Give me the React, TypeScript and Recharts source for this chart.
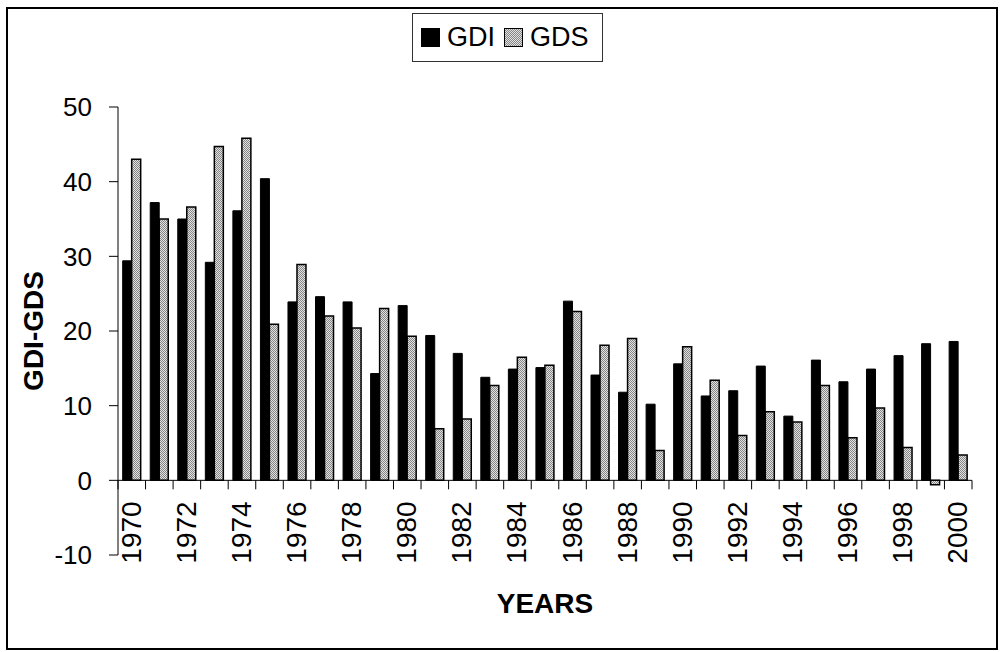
import React from 'react';
import { BarChart, Bar, XAxis, YAxis, ReferenceLine } from 'recharts';

const years = [
  1970, 1971, 1972, 1973, 1974, 1975, 1976, 1977, 1978, 1979, 1980,
  1981, 1982, 1983, 1984, 1985, 1986, 1987, 1988, 1989, 1990,
  1991, 1992, 1993, 1994, 1995, 1996, 1997, 1998, 1999, 2000,
];

// gross domestic investment, % of GDP
const gdi = [
  29.4, 37.2, 35.0, 29.2, 36.1, 40.4, 23.9, 24.6, 23.9, 14.3, 23.4,
  19.4, 17.0, 13.8, 14.9, 15.1, 24.0, 14.1, 11.8, 10.2, 15.6,
  11.3, 12.0, 15.3, 8.6, 16.1, 13.2, 14.9, 16.7, 18.3, 18.6,
];

// gross domestic savings, % of GDP
const gds = [
  43.0, 35.0, 36.6, 44.7, 45.8, 20.9, 28.9, 22.0, 20.4, 23.0, 19.3,
  6.9, 8.2, 12.7, 16.5, 15.4, 22.6, 18.1, 19.0, 4.0, 17.9,
  13.4, 6.0, 9.2, 7.8, 12.7, 5.7, 9.7, 4.4, -0.6, 3.4,
];

const yTicks = [-10, 0, 10, 20, 30, 40, 50];

const data = years.map((year, i) => ({ year, GDI: gdi[i], GDS: gds[i] }));

const FONT = '"Liberation Sans", Arial, sans-serif';
const W = 1000;
const H = 652;
const MARGIN = { top: 107, right: 28, bottom: 0, left: 0 };
const Y_AXIS_W = 118;
const X_AXIS_H = 97;
const PLOT_W = W - MARGIN.left - MARGIN.right - Y_AXIS_W;
const PLOT_H = H - MARGIN.top - MARGIN.bottom - X_AXIS_H;
const BAND = PLOT_W / years.length;
const Y_MIN = yTicks[0];
const Y_MAX = yTicks[yTicks.length - 1];
const ZERO_Y = MARGIN.top + (PLOT_H * Y_MAX) / (Y_MAX - Y_MIN);

// year labels hang below the zero line; tick marks sit between categories
const YearTick = (props: any) => {
  const { x, payload } = props;
  const idx = years.indexOf(payload.value);
  const left = x - BAND / 2;
  return (
    <g>
      <line x1={left} x2={left} y1={ZERO_Y} y2={ZERO_Y + 9} stroke="#000" />
      {idx === years.length - 1 && (
        <line x1={x + BAND / 2} x2={x + BAND / 2} y1={ZERO_Y} y2={ZERO_Y + 9} stroke="#000" />
      )}
      {idx % 2 === 0 && (
        <text
          transform={`translate(${x + 9}, ${ZERO_Y + 21}) rotate(-90)`}
          textAnchor="end"
          fontSize={28}
          fontFamily={FONT}
          fill="#000"
        >
          {payload.value}
        </text>
      )}
    </g>
  );
};

const YTitle = (props: any) => {
  const vb = props.viewBox || { y: MARGIN.top, height: PLOT_H };
  return (
    <text
      transform={`translate(43, ${vb.y + vb.height / 2}) rotate(-90)`}
      textAnchor="middle"
      fontSize={28}
      fontWeight="bold"
      fontFamily={FONT}
      fill="#000"
    >
      GDI-GDS
    </text>
  );
};

const swatch: React.CSSProperties = {
  display: 'inline-block',
  width: 19,
  height: 19,
  boxSizing: 'border-box',
};

const App: React.FC = () => {
  return (
    <div style={{ position: 'absolute', left: 0, top: 0, width: W, height: H, background: '#fff' }}>
      <svg width={0} height={0} style={{ position: 'absolute' }}>
        <defs>
          {/* checkerboard dither for the savings bars */}
          <pattern id="gdsDots" width={2} height={2} patternUnits="userSpaceOnUse">
            <rect width={2} height={2} fill="#e2e2e2" />
            <rect width={1} height={1} fill="#858585" />
            <rect x={1} y={1} width={1} height={1} fill="#858585" />
          </pattern>
        </defs>
      </svg>

      <BarChart
        width={W}
        height={H}
        data={data}
        margin={MARGIN}
        barCategoryGap="17%"
        barGap={0}
      >
        <XAxis
          dataKey="year"
          interval={0}
          axisLine={false}
          tickLine={false}
          height={X_AXIS_H}
          tick={<YearTick />}
          label={{
            value: 'YEARS',
            position: 'insideBottom',
            offset: 39,
            fontSize: 28,
            fontWeight: 'bold',
            fontFamily: FONT,
            fill: '#000',
          }}
        />
        <YAxis
          domain={[Y_MIN, Y_MAX]}
          ticks={yTicks}
          width={Y_AXIS_W}
          stroke="#000"
          tickSize={9}
          tickMargin={17}
          tick={{ fontSize: 26, fontFamily: FONT, fill: '#000' }}
          label={<YTitle />}
        />
        <ReferenceLine y={0} stroke="#000" strokeWidth={1} />
        <Bar dataKey="GDI" fill="#000" stroke="#000" strokeWidth={1} isAnimationActive={false} />
        <Bar dataKey="GDS" fill="url(#gdsDots)" stroke="#000" strokeWidth={1.5} isAnimationActive={false} />
      </BarChart>

      {/* legend box */}
      <div
        style={{
          position: 'absolute',
          left: 412,
          top: 13,
          width: 191,
          height: 49,
          border: '1px solid #333',
          boxSizing: 'border-box',
          display: 'flex',
          alignItems: 'center',
          paddingLeft: 8,
          fontFamily: FONT,
          fontSize: 27,
          color: '#000',
        }}
      >
        <span style={{ ...swatch, background: '#000' }} />
        <span style={{ marginLeft: 7 }}>GDI</span>
        <span
          style={{
            ...swatch,
            marginLeft: 9,
            border: '1.5px solid #000',
            background: 'repeating-conic-gradient(#858585 0 25%, #e2e2e2 0 50%) 0 0 / 2px 2px',
          }}
        />
        <span style={{ marginLeft: 7 }}>GDS</span>
      </div>

      {/* outer frame */}
      <div
        style={{
          position: 'absolute',
          left: 6,
          top: 7,
          width: 992,
          height: 643,
          border: '2px solid #000',
          boxSizing: 'border-box',
          pointerEvents: 'none',
        }}
      />
    </div>
  );
};

export default App;
